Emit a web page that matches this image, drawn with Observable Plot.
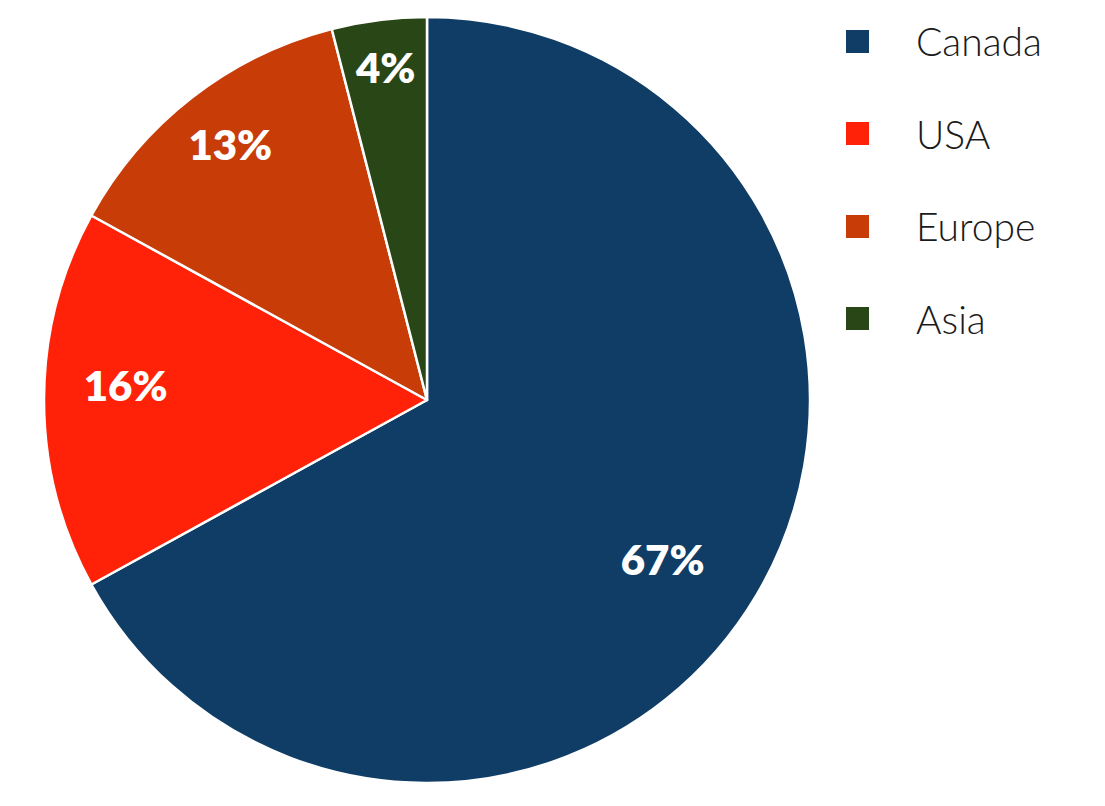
<!DOCTYPE html>
<html>
<head>
<meta charset="utf-8">
<script src="https://cdn.jsdelivr.net/npm/d3@7"></script>
<script src="https://cdn.jsdelivr.net/npm/@observablehq/plot@0.6"></script>
<style>
  html, body { margin: 0; padding: 0; background: #fff; }
  #wrap { position: relative; width: 1105px; height: 806px; overflow: hidden; }
  #legend { position: absolute; left: 846px; top: 18px; font-family: "Lato", "Noto Sans", sans-serif; font-weight: 300; color: #1a1a1a; }
  .item { display: flex; align-items: center; height: 46px; margin-bottom: 46.5px; }
  .sw { width: 23px; height: 23px; margin-right: 47px; }
  .lab { font-size: 39px; line-height: 46px; }
</style>
</head>
<body>
<div id="wrap"><div id="chart"></div><div id="legend"></div></div>
<script>
// Data
const categories = ["Canada", "USA", "Europe", "Asia"];
const shares = [67, 16, 13, 4];
const labels = ["67%", "16%", "13%", "4%"];
const colors = ["#0f3d66", "#ff2209", "#c83c08", "#294716"];

// Layout (styling, not data)
const labelRadius = [0.744, 0.789, 0.84, 0.87];
const labelAngleNudge = [3.8, 2.5, 0, 0]; // degrees

const rows = categories.map((c, i) => ({category: c, share: shares[i], label: labels[i]}));
const arcs = d3.pie().sort(null).value(d => d.share)(rows);
arcs.forEach((a, i) => {
  const mid = (a.startAngle + a.endAngle) / 2 + labelAngleNudge[i] * Math.PI / 180;
  a.lx = labelRadius[i] * Math.sin(mid);
  a.ly = labelRadius[i] * Math.cos(mid);
});

const color = d3.scaleOrdinal(categories, colors);

function slices(...args) {
  let scales;
  if (args.length >= 4) { scales = args[1]; }
  else { scales = args[0]; }
  const cx = scales.x(0), cy = scales.y(0);
  const r = Math.abs(scales.x(1) - scales.x(0));
  const arc = d3.arc().innerRadius(0).outerRadius(r);
  const g = d3.create("svg:g").attr("transform", `translate(${cx},${cy})`);
  g.selectAll("path").data(arcs).join("path")
    .attr("d", arc)
    .attr("fill", d => color(d.data.category))
    .attr("stroke", "#fff")
    .attr("stroke-width", 2.5)
    .attr("stroke-linejoin", "round");
  return g.node();
}

const chart = Plot.plot({
  width: 1105,
  height: 806,
  margin: 0,
  x: {domain: [-1, 1], range: [44, 810], axis: null},
  y: {domain: [-1, 1], range: [783, 17], axis: null},
  marks: [
    slices,
    Plot.text(arcs, {
      x: d => d.lx,
      y: d => d.ly,
      text: d => d.data.label,
      fill: "white",
      fontSize: 42,
      fontWeight: 800,
      fontFamily: "Lato, 'Open Sans', sans-serif",
      textAnchor: "middle",
      lineAnchor: "middle"
    })
  ]
});
document.getElementById("chart").appendChild(chart);

const legend = d3.select("#legend");
categories.forEach((c, i) => {
  const it = legend.append("div").attr("class", "item");
  it.append("div").attr("class", "sw").style("background", colors[i]);
  it.append("div").attr("class", "lab").text(c);
});
</script>
</body>
</html>
